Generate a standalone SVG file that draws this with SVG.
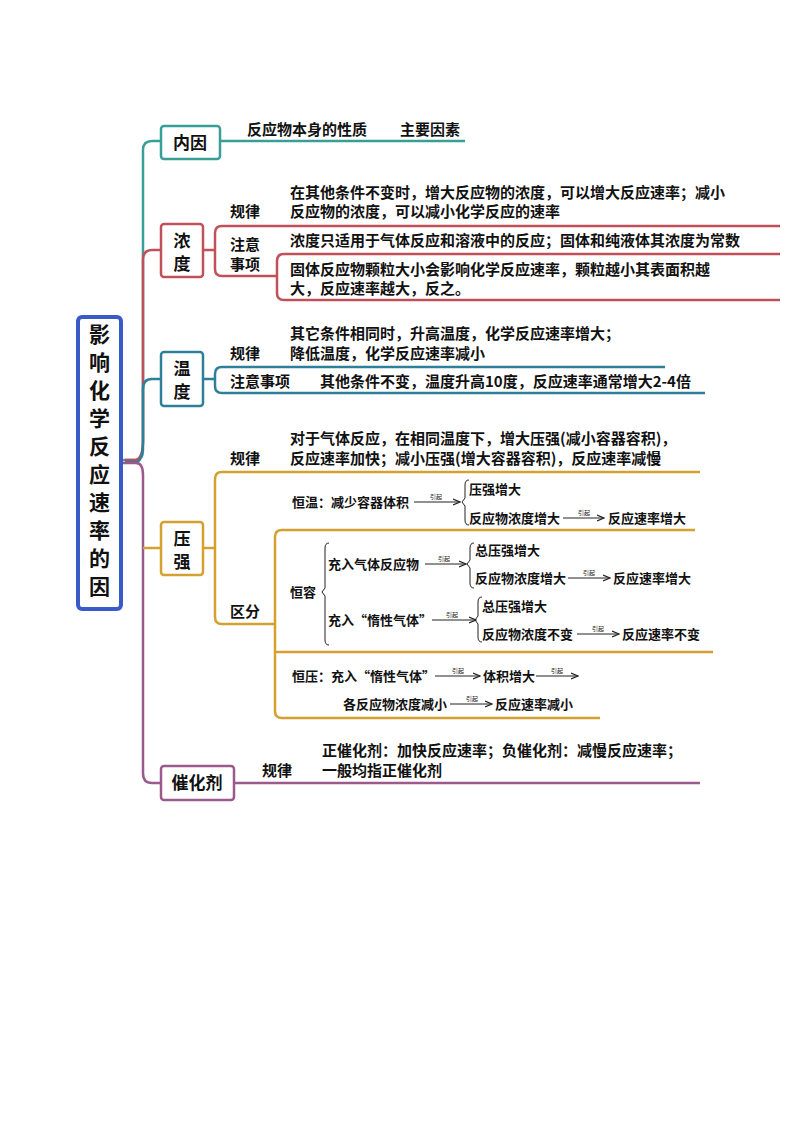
<svg xmlns="http://www.w3.org/2000/svg" width="800" height="1132" viewBox="0 0 800 1132">
<defs>
<marker id="ar" markerWidth="8" markerHeight="8" refX="7" refY="4" orient="auto" markerUnits="userSpaceOnUse"><path d="M0,1 L7,4 L0,7" fill="none" stroke="#222" stroke-width="1.2"/></marker>
</defs>
<style>
text{font-family:"Noto Sans CJK SC","Liberation Sans",sans-serif;fill:#111;font-weight:bold}
.t{font-size:15px}
.s{font-size:13px}
.k{font-size:6px;font-weight:normal}
.n{font-size:17px}
.box{fill:#fff;stroke-width:2.5}
.ln{fill:none;stroke-width:2.5}
.sm{fill:none;stroke:#222;stroke-width:1}
</style>
<rect width="800" height="1132" fill="#fff"/>
<g id="connectors">
<path class="ln" stroke="#3a9e98" d="M121,460 L136,460 Q143,460 143,450 L143,150 Q143,141 152,141 L161,141"/>
<path class="ln" stroke="#3a9e98" d="M220,141 L465,141"/>
<path class="ln" stroke="#c0505a" d="M125,460 L136,460 Q143,458 143,440 L143,260 Q143,250 152,250 L161,250"/>
<path class="ln" stroke="#c0505a" d="M203,250 L215,250 M780,226 L222,226 Q215,226 215,233 L215,269 Q215,276 222,276 L277,276 M780,254 L284,254 Q277,254 277,261 L277,293 Q277,300 284,300 L780,300"/>
<path class="ln" stroke="#2e7f9a" d="M125,462 L136,462 Q143,462 143,440 L143,389 Q143,379 152,379 L161,379"/>
<path class="ln" stroke="#2e7f9a" d="M203,379 L215,379 M665,367 L222,367 Q215,367 215,374 L215,386 Q215,393 222,393 L705,393"/>
<path class="ln" stroke="#9c5a8c" stroke-width="5" d="M121,463 L136,463 Q143,463 143,475 L143,773 Q143,783 152,783 L161,783"/>
<path class="ln" stroke="#9c5a8c" d="M234,783 L700,783"/>
<path class="ln" stroke="#d4a030" d="M143,548 L161,548 M203,548 L215,548 M700,472 L222,472 Q215,472 215,479 L215,617 Q215,624 222,624 L275,624 M695,530 L282,530 Q275,530 275,537 L275,711 Q275,718 282,718 L600,718 M275,652 L713,652"/>
<g>
<path class="sm" d="M414,502 L460,502" marker-end="url(#ar)"/>
<path class="sm" d="M469,480 Q465,480 465,485 L465,498 L462,502 L465,506 L465,520 Q465,525 469,525"/>
<path class="sm" d="M563,518 L604,518" marker-end="url(#ar)"/>
<path class="sm" d="M329,543 Q325,543 325,548 L325,588 L322,592 L325,596 L325,640 Q325,645 329,645"/>
<path class="sm" d="M425,564 L466,564" marker-end="url(#ar)"/>
<path class="sm" d="M474,543 Q470,543 470,548 L470,560 L467,564 L470,568 L470,583 Q470,588 474,588"/>
<path class="sm" d="M568,578 L610,578" marker-end="url(#ar)"/>
<path class="sm" d="M432,620 L476,620" marker-end="url(#ar)"/>
<path class="sm" d="M482,597 Q478,597 478,602 L478,616 L475,620 L478,624 L478,637 Q478,642 482,642"/>
<path class="sm" d="M577,634 L619,634" marker-end="url(#ar)"/>
<path class="sm" d="M435,676 L480,676" marker-end="url(#ar)"/>
<path class="sm" d="M536,676 L578,676" marker-end="url(#ar)"/>
<path class="sm" d="M450,704 L492,704" marker-end="url(#ar)"/>
</g>
</g>
<g id="root"><rect x="78" y="317" width="43" height="292" rx="4" fill="#fff" stroke="#3a5bc7" stroke-width="4"/>
<text font-size="21" text-anchor="middle"><tspan x="99.5" y="342">影</tspan><tspan x="99.5" y="370">响</tspan><tspan x="99.5" y="398">化</tspan><tspan x="99.5" y="426">学</tspan><tspan x="99.5" y="454">反</tspan><tspan x="99.5" y="482">应</tspan><tspan x="99.5" y="510">速</tspan><tspan x="99.5" y="538">率</tspan><tspan x="99.5" y="566">的</tspan><tspan x="99.5" y="594">因</tspan><tspan x="99.5" y="622" display="none"> </tspan></text></g>
<g id="root2"><text x="99.5" y="596" font-size="21" text-anchor="middle" display="none"> </text></g>
<g id="n-neiyin"><rect class="box" x="161" y="126" width="59" height="33" rx="3" stroke="#3a9e98"/><text class="n" x="190" y="149" text-anchor="middle">内因</text>
<text class="t" x="247" y="135">反应物本身的性质</text><text class="t" x="400" y="135">主要因素</text></g>
<g id="n-nongdu"><rect class="box" x="161" y="224" width="42" height="53" rx="3" stroke="#c0505a"/><text class="n" x="182" y="247" text-anchor="middle">浓</text><text class="n" x="182" y="270" text-anchor="middle">度</text>
<text class="t" x="230" y="217">规律</text><text class="t" x="290" y="198">在其他条件不变时，增大反应物的浓度，可以增大反应速率；减小</text><text class="t" x="290" y="217">反应物的浓度，可以减小化学反应的速率</text>
<text class="t" x="230" y="250">注意</text><text class="t" x="230" y="270">事项</text>
<text class="t" x="290" y="246">浓度只适用于气体反应和溶液中的反应；固体和纯液体其浓度为常数</text>
<text class="t" x="290" y="275">固体反应物颗粒大小会影响化学反应速率，颗粒越小其表面积越</text><text class="t" x="290" y="294">大，反应速率越大，反之。</text></g>
<g id="n-wendu"><rect class="box" x="161" y="352" width="42" height="54" rx="3" stroke="#2e7f9a"/><text class="n" x="182" y="375" text-anchor="middle">温</text><text class="n" x="182" y="398" text-anchor="middle">度</text>
<text class="t" x="230" y="359">规律</text><text class="t" x="290" y="339">其它条件相同时，升高温度，化学反应速率增大；</text><text class="t" x="290" y="359">降低温度，化学反应速率减小</text>
<text class="t" x="230" y="387">注意事项</text><text class="t" x="320" y="387">其他条件不变，温度升高10度，反应速率通常增大2-4倍</text></g>
<g id="n-yaqiang"><rect class="box" x="161" y="522" width="42" height="53" rx="3" stroke="#d4a030"/><text class="n" x="182" y="545" text-anchor="middle">压</text><text class="n" x="182" y="568" text-anchor="middle">强</text>
<text class="t" x="230" y="464">规律</text><text class="t" x="290" y="444">对于气体反应，在相同温度下，增大压强(减小容器容积)，</text><text class="t" x="290" y="464">反应速率加快；减小压强(增大容器容积)，反应速率减慢</text>
<text class="t" x="230" y="617">区分</text>
<text class="s" x="292" y="507">恒温：减少容器体积</text><text class="k" x="430" y="499">引起</text>
<text class="s" x="469" y="494">压强增大</text><text class="s" x="469" y="523">反应物浓度增大</text><text class="k" x="578" y="515">引起</text><text class="s" x="608" y="523">反应速率增大</text>
<text class="s" x="290" y="597">恒容</text>
<text class="s" x="328" y="569">充入气体反应物</text><text class="k" x="438" y="561">引起</text>
<text class="s" x="475" y="555">总压强增大</text><text class="s" x="475" y="583">反应物浓度增大</text><text class="k" x="583" y="575">引起</text><text class="s" x="613" y="583">反应速率增大</text>
<text class="s" x="328" y="625">充入“惰性气体”</text><text class="k" x="446" y="617">引起</text>
<text class="s" x="482" y="611">总压强增大</text><text class="s" x="482" y="639">反应物浓度不变</text><text class="k" x="592" y="631">引起</text><text class="s" x="622" y="639">反应速率不变</text>
<text class="s" x="292" y="681">恒压：充入“惰性气体”</text><text class="k" x="452" y="673">引起</text><text class="s" x="483" y="681">体积增大</text><text class="k" x="551" y="673">引起</text>
<text class="s" x="343" y="709">各反应物浓度减小</text><text class="k" x="466" y="701">引起</text><text class="s" x="495" y="709">反应速率减小</text></g>
<g id="n-cuihuaji"><rect class="box" x="161" y="766" width="73" height="34" rx="3" stroke="#9c5a8c"/><text class="n" x="197" y="789" text-anchor="middle">催化剂</text>
<text class="t" x="262" y="776">规律</text><text class="t" x="322" y="756">正催化剂：加快反应速率；负催化剂：减慢反应速率；</text><text class="t" x="322" y="776">一般均指正催化剂</text></g>
</svg>
